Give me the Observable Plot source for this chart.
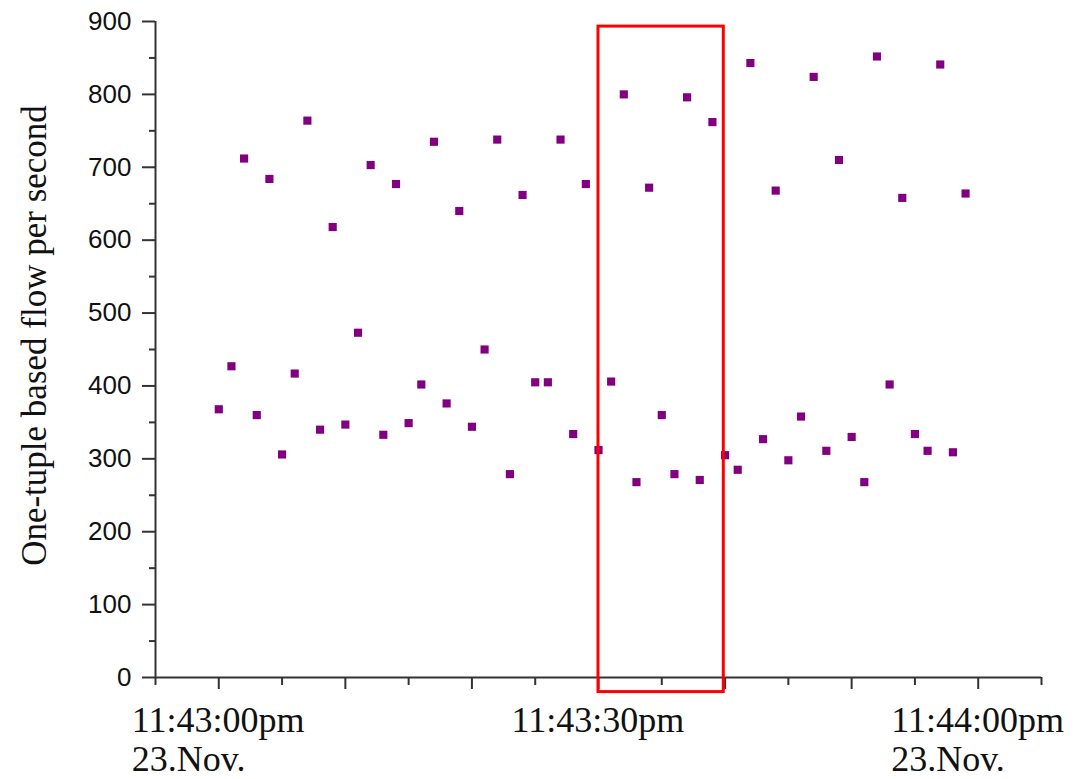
<!DOCTYPE html>
<html>
<head>
<meta charset="utf-8">
<script src="https://cdn.jsdelivr.net/npm/d3@7"></script>
<script src="https://cdn.jsdelivr.net/npm/@observablehq/plot@0.6"></script>
<style>
  html, body { margin: 0; padding: 0; background: #fff; }
  #chart svg { display: block; }
</style>
</head>
<body>
<div id="chart"></div>
<script>
// Seconds after 11:43:00pm, 23 Nov.
const seconds = d3.range(0, 60);
const flows = [
  368, 427, 712, 360, 684, 306, 417, 764, 340, 618,
  347, 473, 703, 333, 677, 349, 402, 735, 376, 640,
  344, 450, 738, 279, 662, 405, 405, 738, 334, 677,
  312, 406, 800, 268, 672, 360, 279, 796, 271, 762,
  305, 285, 843, 327, 668, 298, 358, 824, 311, 710,
  330, 268, 852, 402, 658, 334, 311, 841, 309, 664
];
const yMajorTicks = [0, 100, 200, 300, 400, 500, 600, 700, 800, 900];
const yMinorTicks = [50, 150, 250, 350, 450, 550, 650, 750, 850];
const xMajorTicks = [0, 10, 20, 30, 40, 50, 60];
const xMinorTicks = [-5, 5, 15, 25, 35, 45, 55, 65];
const xLabelPositions = [0, 30, 60];
const xLabelTexts = ["11:43:00pm\n23.Nov.", "11:43:30pm", "11:44:00pm\n23.Nov."];
const yTitle = "One-tuple based flow per second";
const highlight = [{start: 30, end: 39.9, low: -20, high: 893}];

const points = seconds.map((s, i) => ({t: s, v: flows[i]}));
const xLabels = xLabelPositions.map((p, i) => ({t: p, label: xLabelTexts[i]}));

const axisColor = "#333";
const serif = "'Liberation Serif', 'Times New Roman', serif";
const sans = "'Liberation Sans', Arial, sans-serif";

const chart = Plot.plot({
  width: 1086,
  height: 779,
  marginLeft: 155,
  marginRight: 45,
  marginTop: 21,
  marginBottom: 102,
  style: {background: "white", overflow: "visible"},
  x: {domain: [-5, 65], axis: null},
  y: {domain: [0, 900], axis: null},
  marks: [
    // y axis
    Plot.ruleX([-5], {y1: 0, y2: 900, stroke: axisColor, strokeWidth: 2}),
    Plot.axisY(yMajorTicks, {anchor: "left", tickSize: 13, tickPadding: 11, stroke: axisColor, strokeWidth: 2,
      fontSize: 26, fontFamily: sans, fill: "#111", label: null}),
    Plot.axisY(yMinorTicks, {anchor: "left", tickSize: 6, tickFormat: () => "", stroke: axisColor, strokeWidth: 2, label: null}),
    // x axis
    Plot.ruleY([0], {x1: -5, x2: 65, stroke: axisColor, strokeWidth: 2}),
    Plot.axisX(xMajorTicks, {anchor: "bottom", tickSize: 12, tickFormat: () => "", stroke: axisColor, strokeWidth: 2, label: null}),
    Plot.axisX(xMinorTicks, {anchor: "bottom", tickSize: 8, tickFormat: () => "", stroke: axisColor, strokeWidth: 2, label: null}),
    Plot.text(xLabels, {x: "t", y: () => 0, text: "label", textAnchor: "start", dx: -87, dy: 26,
      lineAnchor: "top", lineHeight: 1.1, fontSize: 36, fontFamily: serif, fill: "#111"}),
    Plot.text([yTitle], {frameAnchor: "left", rotate: -90, textAnchor: "middle", lineAnchor: "middle", dx: -121, dy: -14,
      fontSize: 35, fontFamily: serif, fill: "#111"}),
    // data
    Plot.dot(points, {x: "t", y: "v", symbol: "square", r: 4.6, fill: "#800080", stroke: "none"}),
    // highlighted window
    Plot.rect(highlight, {x1: "start", x2: "end", y1: "low", y2: "high", fill: "none", stroke: "#ff0000", strokeWidth: 3, clip: false})
  ]
});
document.getElementById("chart").appendChild(chart);
</script>
</body>
</html>
